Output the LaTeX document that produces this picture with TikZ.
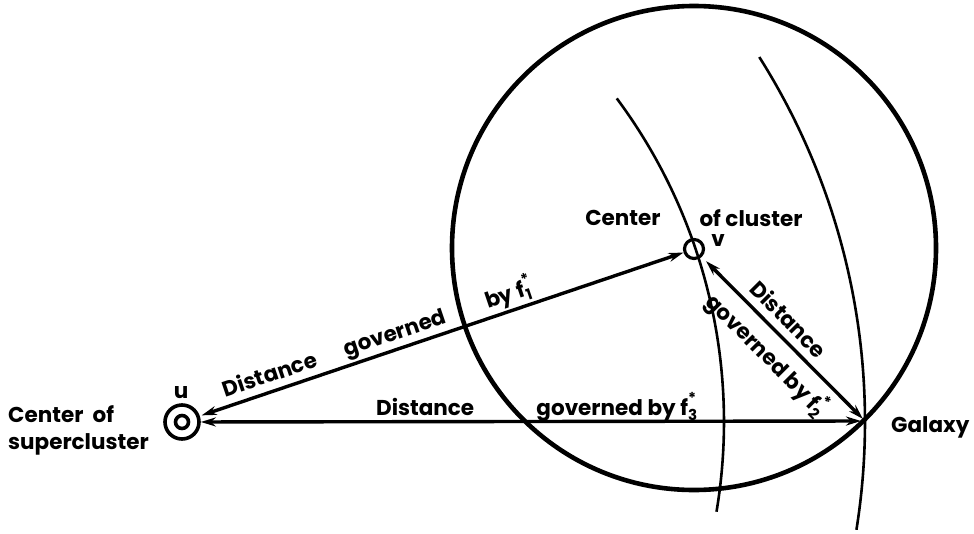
\documentclass[tikz,border=0pt]{standalone}
\usepackage{fontspec}
\usepackage{amsmath}
\setmainfont{Poppins}
\usetikzlibrary{arrows.meta}
\newcommand{\fstar}[1]{$\text{f}^{\text{*}}_{\text{#1}}$}
\begin{document}
\begin{tikzpicture}[x=1pt,y=-1pt,
  lbl/.style={font=\fontsize{21.5}{27}\selectfont\bfseries, inner sep=0pt, text depth=0pt},
  arr/.style={line width=3.4pt, {Stealth[length=15pt,width=9pt]}-{Stealth[length=15pt,width=9pt]}},
  ring/.style={circle, draw, line width=3.6pt, inner sep=0pt},
  arcline/.style={line width=2.6pt}]
\useasboundingbox (0,0) rectangle (974,533);
% cluster circle, centred on v
\coordinate (c) at (694,248);
\draw[line width=4.6pt] (c) circle[radius=242];
% points
\node[ring, minimum size=34pt] (u) at (182,422) {};
\node[ring, minimum size=13pt] (ui) at (182,422) {};
\node[ring, minimum size=19pt, line width=3.2pt] (v) at (694,249) {};
\coordinate (g) at (865,421);
% arcs centred on u
\draw[arcline] (u.center) ++(-36.66:542) arc[start angle=-36.66, end angle=9.53, radius=542];
\draw[arcline] (u.center) ++(-32.3:683) arc[start angle=-32.3, end angle=9.08, radius=683];
% connectors
\draw[line width=3.4pt] (ui) -- (u);
\draw[arr, shorten >=4pt] (u) -- (g);
\draw[arr, shorten <=2pt] (u) -- (v);
\draw[arr, shorten <=6pt, shorten >=3pt] (v) -- (g);
% labels on connectors
\path (u.center) -- (v.center)
  node[lbl, sloped, above=9pt, pos=0.182] {Distance}
  node[lbl, sloped, above=9pt, pos=0.426] {governed}
  node[lbl, sloped, above=9pt, pos=0.649] {by \fstar{1}};
\path (u.center) -- (g)
  node[lbl, above=6pt, pos=0.356] {Distance}
  node[lbl, above=6pt, pos=0.637] {governed by \fstar{3}};
\path (v.center) -- (g)
  node[lbl, sloped, above=9pt, pos=0.48] {Distance}
  node[lbl, sloped, below=8pt, pos=0.52] {governed by \fstar{2}};
% other labels
\node[lbl, anchor=west, align=left] (sc) at (8,428) {Center\ \ of\\supercluster};
\node[lbl] (ul) at (181,392) {u};
\node[lbl] (cc) at (623,218) {Center};
\node[lbl] (oc) at (751,218) {of cluster};
\node[lbl] (vl) at (718,240) {v};
\node[lbl, anchor=west] (gl) at (891,425) {Galaxy};
\end{tikzpicture}
\end{document}
